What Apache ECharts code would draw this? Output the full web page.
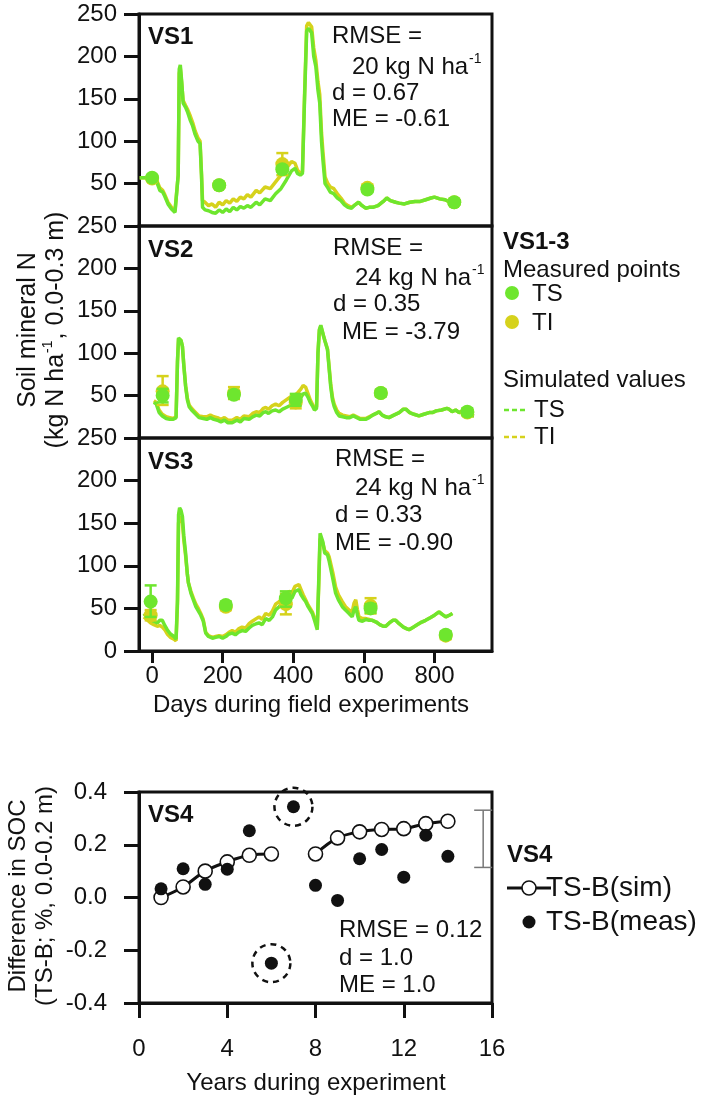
<!DOCTYPE html>
<html><head><meta charset="utf-8">
<script src="https://cdn.jsdelivr.net/npm/echarts@6/dist/echarts.min.js"></script>
<style>html,body{margin:0;padding:0;background:#fff}#c{width:708px;height:1095px}</style>
</head><body><div id="c"></div>
<script>
// ---------------- DATA ----------------
const dayTicks = [0, 200, 400, 600, 800];
const panelNames = ['VS1', 'VS2', 'VS3'];
const vs1Stats = ['RMSE =', '20 kg N ha', 'd = 0.67', 'ME = -0.61'];
const vs2Stats = ['RMSE =', '24 kg N ha', 'd = 0.35', 'ME = -3.79'];
const vs3Stats = ['RMSE =', '24 kg N ha', 'd = 0.33', 'ME = -0.90'];
const vs4Stats = ['RMSE = 0.12', 'd = 1.0', 'ME = 1.0'];

// simulated soil mineral N [day, kg N/ha]
const vs1SimTS = [[-35,57],[-10,57],[10,56],[15,50],[22,42],[30,40],[36,35],[45,26],[55,20],[65,16],[70,15],[74,60],[77,185],[80,190],[84,170],[88,145],[95,140],[100,135],[108,125],[115,118],[122,108],[130,100],[136,97],[140,60],[143,22],[150,19],[160,18],[170,16],[180,15],[190,19],[200,16],[210,20],[220,17],[230,22],[240,19],[250,23],[260,21],[270,24],[280,22],[295,28],[305,25],[320,32],[335,30],[350,38],[365,44],[380,54],[395,65],[405,68],[412,62],[420,60],[426,62],[432,150],[438,230],[443,233],[448,233],[452,228],[458,200],[464,188],[470,160],[475,145],[480,100],[484,78],[490,50],[498,45],[505,40],[515,38],[525,33],[535,30],[545,25],[555,22],[565,21],[575,25],[585,28],[595,24],[605,21],[615,22],[625,22],[640,24],[655,29],[665,33],[675,30],[690,28],[700,27],[715,26],[730,28],[745,29],[760,29],[775,31],[790,33],[800,34],[815,32],[830,31],[840,29],[850,27],[860,30],[874,29]];
const vs1SimTI = [[-35,57],[-10,57],[10,56],[15,52],[22,45],[30,42],[36,37],[45,28],[55,22],[65,18],[70,16],[74,60],[77,180],[80,186],[84,168],[88,148],[95,142],[100,138],[108,130],[115,122],[122,112],[130,104],[136,100],[140,62],[143,30],[150,28],[160,24],[170,26],[180,22],[190,28],[200,25],[210,30],[220,27],[230,32],[240,29],[250,34],[260,32],[270,37],[280,34],[295,42],[305,39],[320,46],[335,44],[350,52],[365,60],[380,68],[395,76],[405,74],[412,66],[420,62],[426,64],[432,155],[438,236],[443,240],[448,240],[452,235],[458,210],[464,195],[470,170],[475,155],[480,110],[484,88],[490,58],[498,50],[505,46],[515,44],[525,38],[535,33],[545,27],[555,24],[565,22],[575,25],[585,28],[595,24],[605,21],[615,22],[625,22],[640,24],[655,29],[665,33],[675,30],[690,28],[700,27],[715,26],[730,28],[745,29],[760,29],[775,31],[790,33],[800,34],[815,32],[830,31],[840,29],[850,27],[860,30],[874,29]];
const vs2SimTS = [[5,42],[12,40],[20,30],[29,26],[40,23],[50,22],[60,22],[68,24],[72,90],[75,118],[78,120],[82,115],[86,108],[90,85],[95,61],[100,45],[105,37],[112,33],[119,30],[126,27],[133,24],[145,23],[155,22],[165,24],[175,22],[185,21],[195,19],[205,21],[215,18],[227,18],[240,21],[250,19],[260,23],[275,22],[285,25],[295,27],[305,26],[315,30],[322,31],[330,29],[340,32],[350,33],[360,31],[370,34],[380,36],[390,38],[400,40],[410,42],[416,44],[422,48],[428,52],[435,53],[442,48],[448,42],[454,38],[460,33],[466,35],[470,100],[474,128],[478,133],[482,132],[486,120],[490,114],[497,104],[502,80],[506,61],[511,45],[516,37],[523,30],[530,26],[540,25],[550,24],[560,24],[570,26],[580,24],[590,22],[605,22],[615,24],[625,27],[635,29],[643,31],[652,27],[662,25],[671,24],[685,27],[700,30],[712,34],[719,34],[730,30],[742,28],[756,26],[770,28],[785,30],[794,30],[805,32],[820,33],[835,35],[841,34],[850,31],[860,33],[870,30],[880,32],[890,29],[900,27],[912,26]];
const vs2SimTI = [[5,44],[12,42],[20,33],[29,28],[40,25],[50,24],[60,23],[68,25],[72,90],[75,117],[78,119],[82,115],[86,108],[90,86],[95,62],[100,47],[105,39],[112,35],[119,32],[126,29],[133,26],[145,25],[155,25],[165,27],[175,25],[185,24],[195,22],[205,24],[215,21],[227,21],[240,24],[250,22],[260,26],[275,25],[285,29],[295,31],[305,30],[315,35],[322,36],[330,34],[340,38],[350,40],[360,38],[370,42],[380,45],[390,48],[400,50],[410,52],[416,55],[422,58],[428,62],[435,60],[442,52],[448,45],[454,40],[460,35],[466,37],[470,100],[474,127],[478,132],[482,131],[486,120],[490,114],[497,105],[502,82],[506,64],[511,48],[516,40],[523,33],[530,29],[540,27],[550,26],[560,25],[570,27],[580,25],[590,23],[605,23],[615,25],[625,27],[635,29],[643,31],[652,27],[662,25],[671,24],[685,27],[700,30],[712,34],[719,34],[730,30],[742,28],[756,26],[770,28],[785,30],[794,30],[805,32],[820,33],[835,35],[841,34],[850,31],[860,33],[870,30],[880,32],[890,29],[900,27],[912,26]];
const vs3SimTS = [[-23,44],[-15,40],[-4,37],[5,35],[15,33],[22,36],[29,36],[36,30],[43,25],[52,20],[62,17],[68,14],[72,60],[75,160],[78,168],[82,165],[86,158],[90,135],[95,115],[100,90],[103,80],[110,68],[117,60],[124,52],[131,47],[138,42],[145,35],[152,21],[160,17],[171,15],[180,16],[190,17],[200,15],[209,17],[218,20],[227,21],[236,19],[245,22],[255,24],[265,23],[275,27],[284,30],[295,32],[303,33],[312,31],[322,38],[332,36],[341,40],[350,48],[360,52],[370,56],[379,60],[388,64],[396,62],[405,70],[416,72],[422,66],[428,62],[435,58],[442,52],[448,48],[454,44],[461,35],[468,25],[472,80],[476,138],[480,140],[484,128],[489,115],[497,113],[502,105],[506,103],[512,85],[520,68],[528,60],[539,52],[548,48],[558,44],[567,40],[572,48],[577,52],[582,42],[586,36],[596,35],[606,37],[615,36],[624,36],[635,34],[645,31],[655,29],[662,29],[672,33],[682,36],[690,36],[700,32],[712,28],[722,26],[728,25],[740,28],[752,31],[764,34],[775,36],[788,39],[800,42],[813,46],[822,43],[832,40],[842,42],[851,44]];
const vs3SimTI = [[-23,40],[-15,37],[-4,33],[5,31],[15,29],[22,30],[29,28],[36,25],[43,20],[52,16],[62,14],[68,12],[72,55],[75,150],[78,158],[82,156],[86,150],[90,130],[95,112],[100,90],[103,80],[110,70],[117,62],[124,55],[131,50],[138,44],[145,37],[152,22],[160,18],[171,16],[180,17],[190,18],[200,17],[209,19],[218,22],[227,24],[236,22],[245,26],[255,28],[265,27],[275,32],[284,35],[295,38],[303,40],[312,37],[322,44],[332,42],[341,47],[350,55],[360,58],[370,62],[379,65],[388,70],[396,68],[405,76],[416,78],[422,72],[428,66],[435,60],[442,54],[448,50],[454,46],[461,38],[468,28],[472,75],[476,132],[480,134],[484,126],[489,118],[497,115],[502,110],[506,108],[512,92],[520,75],[528,66],[539,58],[548,52],[558,48],[567,46],[572,56],[577,60],[582,48],[586,40],[596,38],[606,38],[615,37],[624,36],[635,34],[645,31],[655,29],[662,29],[672,33],[682,36],[690,36],[700,32],[712,28],[722,26],[728,25],[740,28],[752,31],[764,34],[775,36],[788,39],[800,42],[813,46],[822,43],[832,40],[842,42],[851,44]];

// measured points [day, value] and error bars [day, low, high]
const vs1MeasTS = [[0,57],[190,48],[369,67],[610,43],[856,28]];
const vs1MeasTI = [[0,56],[190,48],[369,73],[610,45],[856,28]];
const vs1ErrTS  = [[0,54,60],[190,46,50],[369,64,70],[610,40,47],[856,25,31]];
const vs1ErrTI  = [[0,53,59],[190,45,51],[369,60,86],[610,41,49],[856,26,30]];
const vs2MeasTS = [[30,50],[232,51],[407,45],[648,53],[893,31]];
const vs2MeasTI = [[30,55],[232,53],[407,42],[648,53],[893,30]];
const vs2ErrTS  = [[30,42,58],[232,47,55],[407,38,52],[648,49,57],[893,27,35]];
const vs2ErrTI  = [[30,39,73],[232,46,60],[407,35,49],[648,50,56],[893,27,33]];
const vs3MeasTS = [[-4,58],[209,54],[379,62],[619,50],[832,19]];
const vs3MeasTI = [[-4,42],[209,52],[379,55],[619,53],[832,18]];
const vs3ErrTS  = [[-4,40,77],[209,50,58],[379,52,70],[619,45,55],[832,15,23]];
const vs3ErrTI  = [[-4,36,48],[209,48,56],[379,43,67],[619,44,62],[832,14,22]];

// VS4: SOC difference
const yearTicks = [0, 4, 8, 12, 16];
const vs4SimYears1 = [1, 2, 3, 4, 5, 6];
const vs4SimVals1  = [0.00, 0.04, 0.10, 0.135, 0.16, 0.165];
const vs4SimYears2 = [8, 9, 10, 11, 12, 13, 14];
const vs4SimVals2  = [0.165, 0.226, 0.249, 0.258, 0.261, 0.28, 0.289];
const vs4MeasYears = [1, 2, 3, 4, 5, 6, 7, 8, 9, 10, 11, 12, 13, 14];
const vs4MeasVals  = [0.033, 0.109, 0.05, 0.107, 0.253, -0.249, 0.344, 0.046, -0.011, 0.147, 0.182, 0.077, 0.236, 0.156];
const vs4Outliers  = [[6, -0.249], [7, 0.344]];
const vs4Range     = [[15.6, 0.114, 0.331]];

// ---------------- STYLE ----------------
const FONT = '"Liberation Sans", Arial, Helvetica, sans-serif';
const GREEN = '#6ee62e', YELLOW = '#d6d21c', INK = '#111';
const FS = 24;

function measure(t, size, weight) {
  const c = document.createElement('canvas').getContext('2d');
  c.font = (weight || 'normal') + ' ' + size + 'px "Liberation Sans", Arial';
  return c.measureText(t).width;
}
function T(x, y, text, o) {
  o = o || {};
  return { type: 'text', x: x, y: y, silent: true, z: 50,
    style: { text: text, fill: INK, fontSize: o.size || FS, fontWeight: o.weight || 'normal', fontFamily: FONT,
      align: o.align || 'left', verticalAlign: 'middle', textAlign: o.align || 'left', textVerticalAlign: 'middle' } };
}
function supGroup(x, y, base, sup, size) {
  const w = measure(base, size);
  return { type: 'group', x: x, y: y, children: [T(0, 0, base, { size: size }), T(w + 1, -8, sup, { size: 14 })] };
}
function errRender(color, half, lw) {
  return function (params, api) {
    const x = api.value(0), lo = api.value(1), hi = api.value(2);
    const a = api.coord([x, lo]), b = api.coord([x, hi]);
    const st = { stroke: color, lineWidth: lw };
    return { type: 'group', children: [
      { type: 'line', shape: { x1: a[0], y1: a[1], x2: b[0], y2: b[1] }, style: st },
      { type: 'line', shape: { x1: a[0] - half, y1: a[1], x2: a[0] + half, y2: a[1] }, style: st },
      { type: 'line', shape: { x1: b[0] - half, y1: b[1], x2: b[0] + half, y2: b[1] }, style: st }
    ] };
  };
}

// ---------------- LAYOUT ----------------
const L = 139, W = 353;
const grids = [
  { left: L, top: 14, width: W, height: 212 },
  { left: L, top: 226, width: W, height: 212 },
  { left: L, top: 438, width: W, height: 213 },
  { left: L, top: 792, width: W, height: 211 }
].map(g => Object.assign(g, { show: true, borderColor: INK, borderWidth: 3, backgroundColor: 'transparent' }));

const xAxes = [0, 1, 2].map(i => ({
  type: 'value', gridIndex: i, min: -37, max: 963,
  splitLine: { show: false },
  axisLine: { show: i === 2, onZero: false, lineStyle: { color: INK, width: 3 } },
  axisTick: { show: i === 2, customValues: dayTicks, length: 12, lineStyle: { color: INK, width: 3 } },
  axisLabel: { show: i === 2, customValues: dayTicks, margin: 13, fontSize: FS, color: INK, fontFamily: FONT }
}));
xAxes.push({
  type: 'value', gridIndex: 3, min: 0, max: 16, interval: 4,
  splitLine: { show: false },
  axisLine: { show: true, onZero: false, lineStyle: { color: INK, width: 3 } },
  axisTick: { show: true, length: 15, lineStyle: { color: INK, width: 3 } },
  axisLabel: { margin: 34, fontSize: FS, color: INK, fontFamily: FONT }
});
const yAxes = [0, 1, 2].map(i => ({
  type: 'value', gridIndex: i, min: 0, max: 250, interval: 50,
  splitLine: { show: false },
  axisLine: { show: true, onZero: false, lineStyle: { color: INK, width: 3 } },
  axisTick: { show: true, length: 15, lineStyle: { color: INK, width: 3 } },
  axisLabel: { margin: 22, fontSize: FS, color: INK, fontFamily: FONT, showMinLabel: i === 2 }
}));
yAxes.push({
  type: 'value', gridIndex: 3, min: -0.4, max: 0.4, interval: 0.2,
  splitLine: { show: false },
  axisLine: { show: true, onZero: false, lineStyle: { color: INK, width: 3 } },
  axisTick: { show: true, length: 15, lineStyle: { color: INK, width: 3 } },
  axisLabel: { margin: 32, fontSize: FS, color: INK, fontFamily: FONT, formatter: v => v.toFixed(1) }
});

const panels = [
  [vs1SimTS, vs1SimTI, vs1MeasTS, vs1MeasTI, vs1ErrTS, vs1ErrTI],
  [vs2SimTS, vs2SimTI, vs2MeasTS, vs2MeasTI, vs2ErrTS, vs2ErrTI],
  [vs3SimTS, vs3SimTI, vs3MeasTS, vs3MeasTI, vs3ErrTS, vs3ErrTI]
];
const series = [];
panels.forEach((p, i) => {
  const ax = { xAxisIndex: i, yAxisIndex: i };
  series.push(Object.assign({ type: 'line', data: p[1], showSymbol: false, lineStyle: { color: YELLOW, width: 3.5 }, z: 2 }, ax));
  series.push(Object.assign({ type: 'line', data: p[0], showSymbol: false, lineStyle: { color: GREEN, width: 3.5 }, z: 3 }, ax));
  series.push(Object.assign({ type: 'custom', data: p[5], renderItem: errRender(YELLOW, 6, 2.5), encode: { x: 0, y: [1, 2] }, z: 4 }, ax));
  series.push(Object.assign({ type: 'scatter', data: p[3], symbolSize: 14, itemStyle: { color: YELLOW, opacity: 1 }, z: 5 }, ax));
  series.push(Object.assign({ type: 'custom', data: p[4], renderItem: errRender(GREEN, 6, 2.5), encode: { x: 0, y: [1, 2] }, z: 6 }, ax));
  series.push(Object.assign({ type: 'scatter', data: p[2], symbolSize: 14, itemStyle: { color: GREEN, opacity: 1 }, z: 7 }, ax));
});
const ax3 = { xAxisIndex: 3, yAxisIndex: 3 };
const simStyle = { type: 'line', smooth: 0.35, symbol: 'circle', symbolSize: 14, showSymbol: true,
  itemStyle: { color: '#fff', borderColor: INK, borderWidth: 1.6 }, lineStyle: { color: INK, width: 3 }, z: 3 };
series.push(Object.assign({}, simStyle, ax3, { data: vs4SimYears1.map((y, k) => [y, vs4SimVals1[k]]) }));
series.push(Object.assign({}, simStyle, ax3, { data: vs4SimYears2.map((y, k) => [y, vs4SimVals2[k]]) }));
series.push(Object.assign({ type: 'scatter', data: vs4MeasYears.map((y, k) => [y, vs4MeasVals[k]]), symbolSize: 13,
  itemStyle: { color: INK, opacity: 1 }, z: 5 }, ax3));
series.push(Object.assign({ type: 'scatter', data: vs4Outliers, symbolSize: 38,
  itemStyle: { color: 'rgba(0,0,0,0)', borderColor: INK, borderWidth: 2.5, borderType: [6, 5], opacity: 1 }, z: 6 }, ax3));
series.push(Object.assign({ type: 'custom', data: vs4Range, renderItem: errRender('#777', 9, 1.5), encode: { x: 0, y: [1, 2] }, z: 4 }, ax3));

// ---------------- TEXT / LEGENDS ----------------
const g = [];
const statsSets = [vs1Stats, vs2Stats, vs3Stats];
const statPos = [
  { x: 332, ys: [36, 67, 93, 119], ind: [0, 20, 0, 0] },
  { x: 333, ys: [248, 278, 304, 332], ind: [0, 22, 0, 9] },
  { x: 335, ys: [459, 488, 515, 543], ind: [0, 20, 0, 0] }
];
const nameY = [37, 250, 462];
statsSets.forEach((s, i) => {
  const p = statPos[i];
  g.push(T(148, nameY[i], panelNames[i], { weight: 'bold' }));
  g.push(T(p.x + p.ind[0], p.ys[0], s[0]));
  g.push(supGroup(p.x + p.ind[1], p.ys[1], s[1], '-1', FS));
  g.push(T(p.x + p.ind[2], p.ys[2], s[2]));
  g.push(T(p.x + p.ind[3], p.ys[3], s[3]));
});
g.push(T(148, 815, 'VS4', { weight: 'bold' }));
g.push(T(339, 930, vs4Stats[0]));
g.push(T(339, 958, vs4Stats[1]));
g.push(T(339, 985, vs4Stats[2]));

// VS1-3 legend
g.push(T(503, 242, 'VS1-3', { weight: 'bold' }));
g.push(T(503, 270, 'Measured points'));
g.push({ type: 'circle', shape: { cx: 512, cy: 293, r: 7 }, style: { fill: GREEN } });
g.push(T(532, 294, 'TS'));
g.push({ type: 'circle', shape: { cx: 512, cy: 322, r: 7 }, style: { fill: YELLOW } });
g.push(T(532, 323, 'TI'));
g.push(T(503, 380, 'Simulated values'));
g.push({ type: 'line', shape: { x1: 504, y1: 410, x2: 528, y2: 410 }, style: { stroke: GREEN, lineWidth: 2.5, lineDash: [5, 3] } });
g.push(T(534, 410, 'TS'));
g.push({ type: 'line', shape: { x1: 504, y1: 437, x2: 528, y2: 437 }, style: { stroke: YELLOW, lineWidth: 2.5, lineDash: [5, 3] } });
g.push(T(534, 437, 'TI'));

// VS4 legend
g.push(T(507, 855, 'VS4', { weight: 'bold' }));
g.push({ type: 'line', shape: { x1: 507, y1: 888, x2: 551, y2: 888 }, style: { stroke: INK, lineWidth: 3 } });
g.push({ type: 'circle', shape: { cx: 529, cy: 888, r: 7 }, style: { fill: '#fff', stroke: INK, lineWidth: 1.6 } });
g.push(T(546, 888, 'TS-B(sim)', { size: 28 }));
g.push({ type: 'circle', shape: { cx: 529, cy: 922, r: 6.5 }, style: { fill: INK } });
g.push(T(546, 922, 'TS-B(meas)', { size: 28 }));

// axis titles
g.push(T(311, 705, 'Days during field experiments', { align: 'center' }));
g.push(T(316, 1083, 'Years during experiment', { align: 'center' }));
function rotTitle(cx, cy, line1, pre, sup, post, size) {
  const w1 = measure(pre, size), ws = measure(sup, 14), w2 = measure(post, size);
  const tot = w1 + ws + 2 + w2;
  return [
    { type: 'group', x: cx[0], y: cy, rotation: Math.PI / 2, children: [T(0, 0, line1, { align: 'center', size: size })] },
    { type: 'group', x: cx[1], y: cy, rotation: Math.PI / 2, children: [
      T(-tot / 2, 0, pre, { size: size }),
      T(-tot / 2 + w1 + 1, -8, sup, { size: 14 }),
      T(-tot / 2 + w1 + ws + 2, 0, post, { size: size })
    ] }
  ];
}
rotTitle([28, 56], 330, 'Soil mineral N', '(kg N ha', '-1', ', 0.0-0.3 m)', 25).forEach(e => g.push(e));
g.push({ type: 'group', x: 18, y: 896, rotation: Math.PI / 2, children: [T(0, 0, 'Difference in SOC', { align: 'center' })] });
g.push({ type: 'group', x: 45, y: 896, rotation: Math.PI / 2, children: [T(0, 0, '(TS-B; %, 0.0-0.2 m)', { align: 'center' })] });

const chart = echarts.init(document.getElementById('c'), null, { renderer: 'canvas' });
chart.setOption({
  animation: false,
  backgroundColor: '#fff',
  textStyle: { fontFamily: FONT },
  grid: grids, xAxis: xAxes, yAxis: yAxes, series: series, graphic: g
});
</script></body></html>
